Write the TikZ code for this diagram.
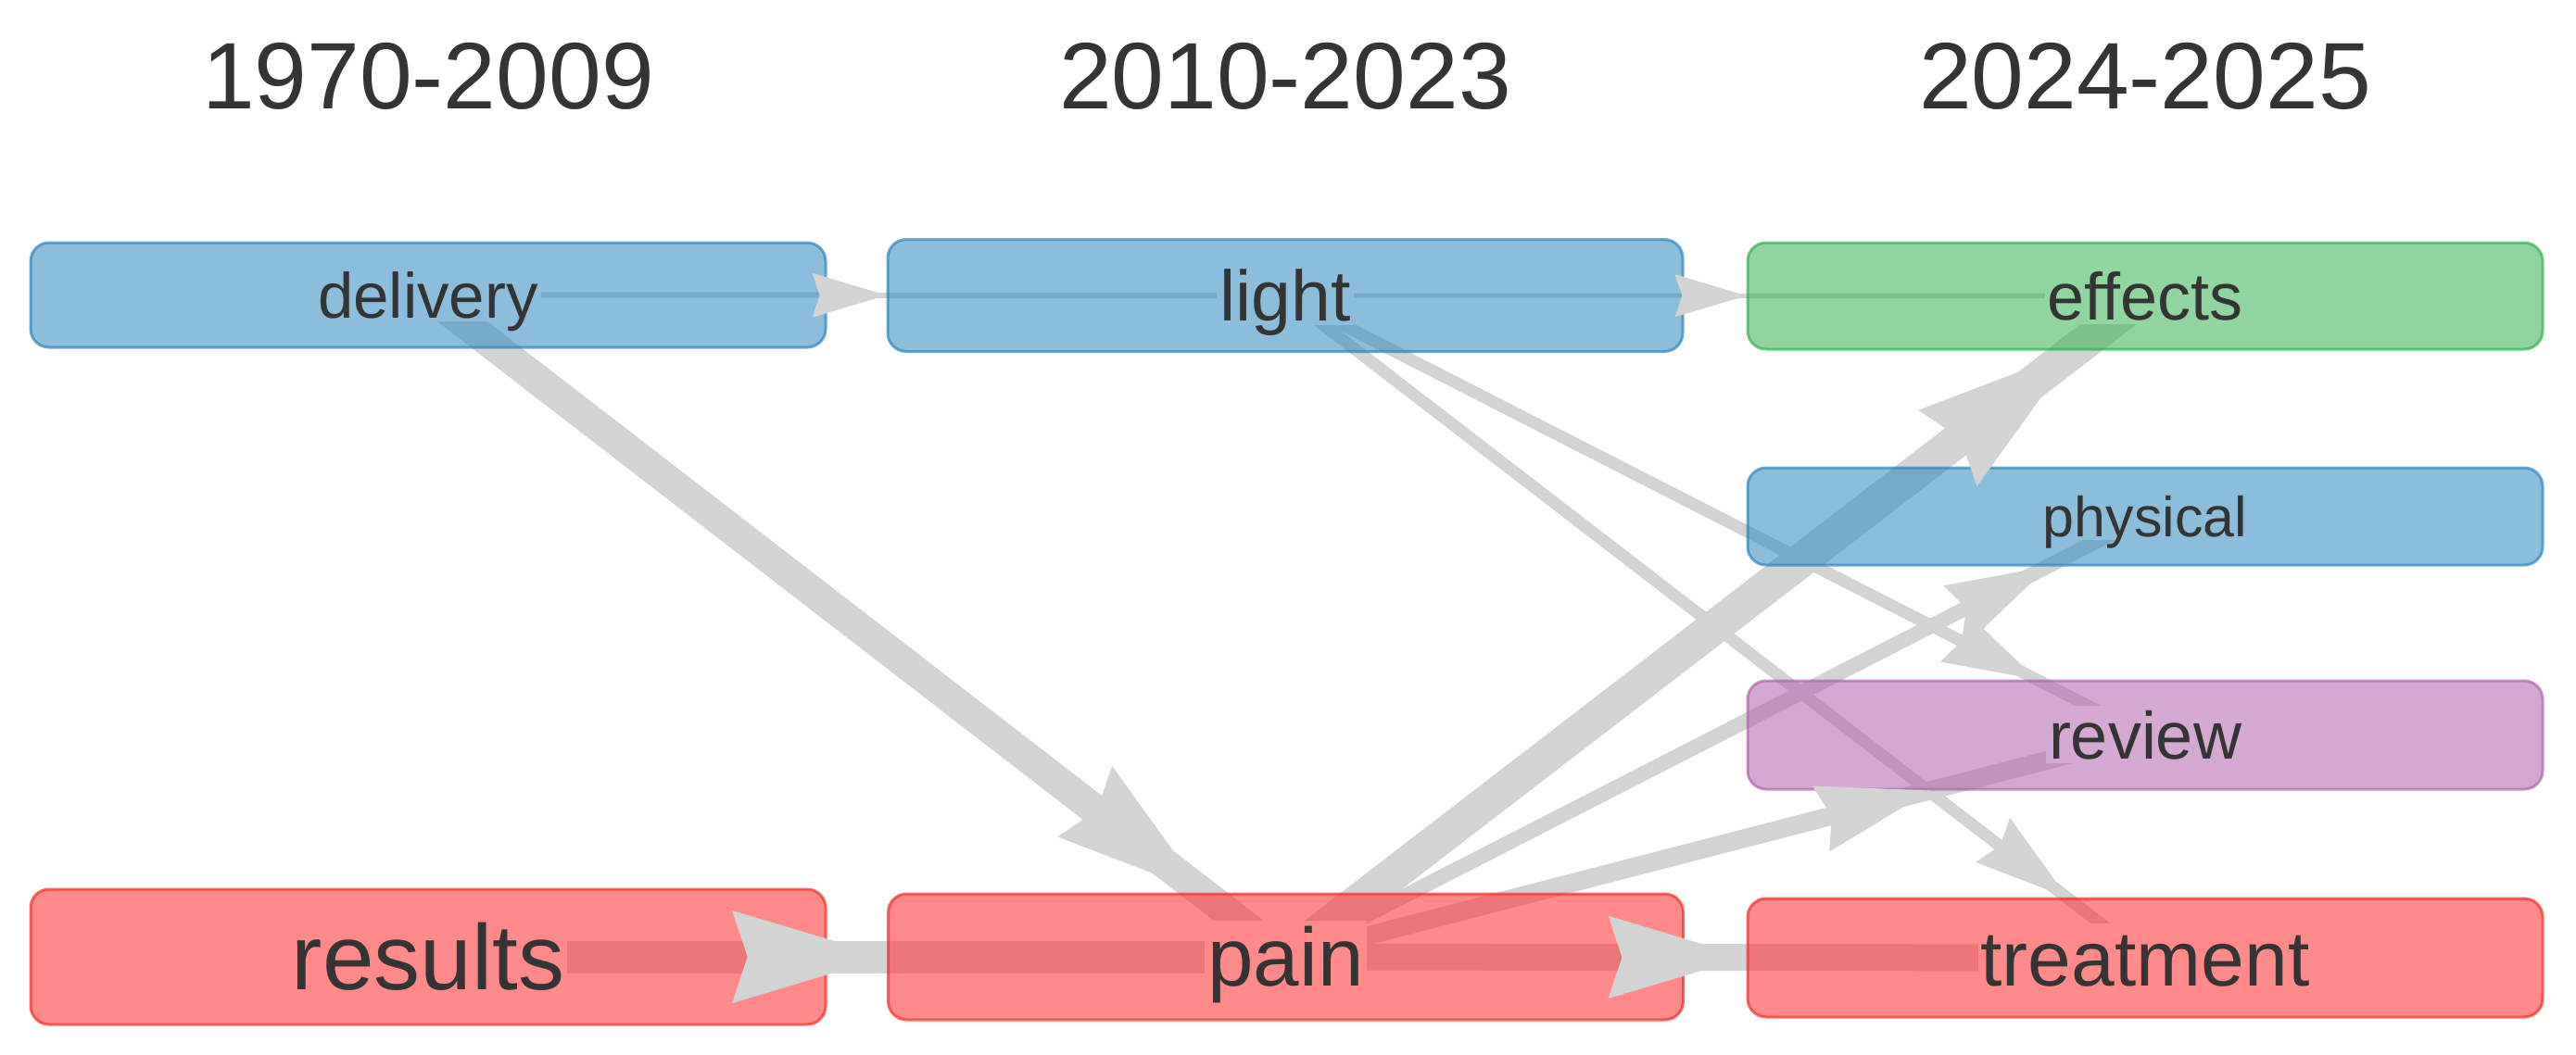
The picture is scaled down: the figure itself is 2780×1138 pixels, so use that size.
\documentclass[tikz,border=0pt]{standalone}
\usepackage{fontspec}
\setmainfont{Liberation Sans}
\usetikzlibrary{calc}
\pgfdeclarelayer{paper}
\pgfdeclarelayer{background}
\pgfsetlayers{paper,background,main}
\definecolor{cblue}{HTML}{2C87C0}
\definecolor{cred}{HTML}{FF2A2A}
\definecolor{cgreen}{HTML}{33B452}
\definecolor{cpurple}{HTML}{B461B1}
\definecolor{bblue}{HTML}{8BBDDC}
\definecolor{bred}{HTML}{FF8A8A}
\definecolor{bgreen}{HTML}{8FD6A0}
\definecolor{bpurple}{HTML}{D6A8D4}
\definecolor{egray}{HTML}{D3D3D3}
\definecolor{tgray}{HTML}{343434}
\newcommand\arrhd[3]{%
  \path (#1) -- (#2) coordinate[pos=1] (T);
  \pgfmathsetmacro\Lh{62+3*#3}%
  \pgfmathsetmacro\La{1.044*\Lh}%
  \pgfmathsetmacro\Lb{0.9*\Lh}%
  \fill[egray] (T) -- ($(T)!\La pt!16.7:(#1.center)$) -- ($(T)!\Lb pt!(#1.center)$) -- ($(T)!\La pt!-16.7:(#1.center)$) -- cycle;
}
% #1 box name, #2 bg colour, #3 font size, #4 text
\newcommand\boxlabel[4]{%
  \pgfmathsetmacro\Fb{0.358*#3}%
  \pgfmathsetmacro\Fh{0.80*#3}%
  \pgfmathsetmacro\Fd{0.06*#3}%
  \node[anchor=base, fill=#2, text=tgray, inner xsep=3pt, inner ysep=0pt,
        text height=\Fh pt, text depth=\Fd pt, font=\fontsize{#3pt}{#3pt}\selectfont]
        (#1-label) at ($(#1.center)+(0,\Fb)$) {#4};
}
\begin{document}
\begin{tikzpicture}[x=1pt,y=-1pt,
  box/.style={rounded corners=20pt, fill opacity=0.55, draw opacity=0.7,
    line width=3pt, minimum width=858pt, inner sep=0pt},
  blue/.style={box, fill=cblue, draw=cblue},
  red/.style={box, fill=cred, draw=cred},
  green/.style={box, fill=cgreen, draw=cgreen},
  purple/.style={box, fill=cpurple, draw=cpurple},
  edge/.style={draw=egray, line cap=butt},
  title/.style={anchor=base, text=tgray, font=\fontsize{102pt}{102pt}\selectfont}]
\useasboundingbox (0,0) rectangle (2780,1138);
\begin{pgfonlayer}{paper}
\fill[white] (0,0) rectangle (2780,1138);
\end{pgfonlayer}

\node[title] (t1) at (462,117) {1970-2009};
\node[title] (t2) at (1387,117) {2010-2023};
\node[title] (t3) at (2315,117) {2024-2025};

\node[blue, minimum height=113pt] (delivery) at (462,318.5) {};
\node[blue, minimum height=121pt] (light) at (1387,319) {};
\node[green, minimum height=115pt] (effects) at (2315,319.5) {};
\node[blue, minimum height=105pt] (physical) at (2315,557.5) {};
\node[purple, minimum height=117pt] (review) at (2315,793.5) {};
\node[red, minimum height=146pt] (results) at (462,1033) {};
\node[red, minimum height=136pt] (pain) at (1387.5,1033) {};
\node[red, minimum height=128pt] (treatment) at (2315,1034) {};

\boxlabel{delivery}{bblue}{69}{delivery}
\boxlabel{light}{bblue}{77}{light}
\boxlabel{effects}{bgreen}{72}{effects}
\boxlabel{physical}{bblue}{61}{physical}
\boxlabel{review}{bpurple}{72}{review}
\boxlabel{results}{bred}{100}{results}
\boxlabel{pain}{bred}{89}{pain}
\boxlabel{treatment}{bred}{84}{treatment}

\begin{pgfonlayer}{background}
\draw[edge, line width=6pt] (delivery.center) -- (light.center);
\draw[edge, line width=33pt] (delivery.center) -- (pain.center);
\draw[edge, line width=5pt] (light.center) -- (effects.center);
\draw[edge, line width=13pt] (light.center) -- (review.center);
\draw[edge, line width=13pt] (light.center) -- (treatment.center);
\draw[edge, line width=35pt] (results.center) -- (pain.center);
\draw[edge, line width=29pt] (pain.center) -- (treatment.center);
\draw[edge, line width=37pt] (pain.center) -- (effects.center);
\draw[edge, line width=16pt] (pain.center) -- (physical.center);
\draw[edge, line width=20pt] (pain.center) -- (review.center);
\end{pgfonlayer}

\arrhd{delivery}{light}{6}
\arrhd{delivery}{pain}{33}
\arrhd{light}{effects}{5}
\arrhd{light}{review}{13}
\arrhd{light}{treatment}{13}
\arrhd{results}{pain}{35}
\arrhd{pain}{treatment}{29}
\arrhd{pain}{effects}{37}
\arrhd{pain}{physical}{16}
\arrhd{pain}{review}{20}
\end{tikzpicture}
\end{document}
